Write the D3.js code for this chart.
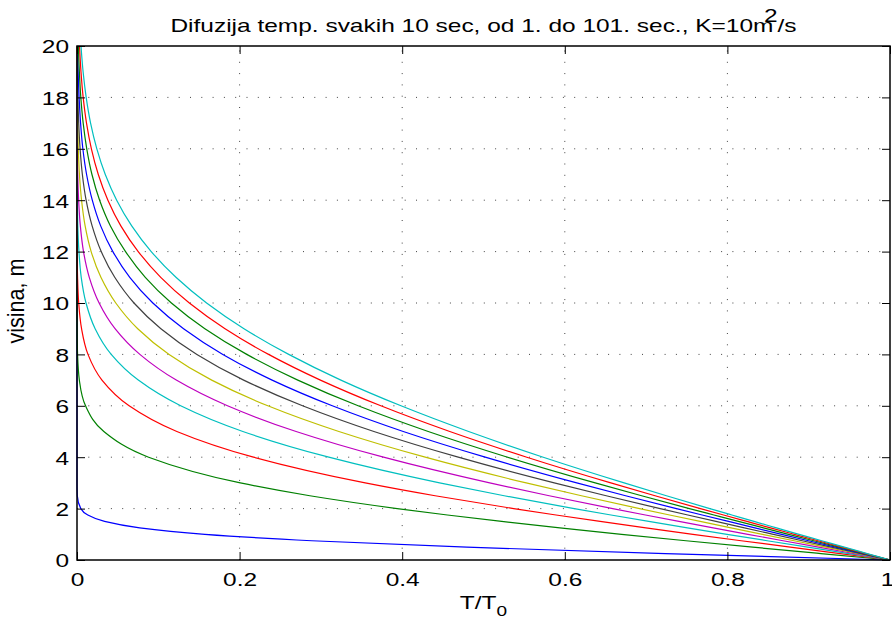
<!DOCTYPE html>
<html>
<head>
<meta charset="utf-8">
<script src="https://cdn.jsdelivr.net/npm/d3@7"></script>
<style>
    body { margin: 0; background: #fff; }
    text { font-family: "Liberation Sans", Arial, Helvetica, sans-serif; fill: #000; }
</style>
</head>
<body>
<div id="chart"></div>
<script>
// heights (visina, m) where every profile is read
const heights = [0, 0.25, 0.5, 0.75, 1, 1.25, 1.5, 1.75, 2, 2.5, 3, 4, 5, 6, 7, 8, 9, 10, 11, 12, 13, 14, 15, 16, 17, 18, 19, 20];

// T/T0 for each time step (1 s, 11 s, ... 101 s)
const t1   = [1, 0.7237, 0.4795, 0.2888, 0.1573, 0.0771, 0.0339, 0.0133, 0.0047, 0.0004, 0, 0, 0, 0, 0, 0, 0, 0, 0, 0, 0, 0, 0, 0, 0, 0, 0, 0];
const t11  = [1, 0.9151, 0.8311, 0.7491, 0.6698, 0.5940, 0.5224, 0.4556, 0.3938, 0.2864, 0.2009, 0.0881, 0.0330, 0.0105, 0.0029, 0.0007, 0.0001, 0, 0, 0, 0, 0, 0, 0, 0, 0, 0, 0];
const t21  = [1, 0.9385, 0.8774, 0.8169, 0.7576, 0.6997, 0.6435, 0.5892, 0.5371, 0.4405, 0.3545, 0.2170, 0.1228, 0.0641, 0.0307, 0.0135, 0.0056, 0.0021, 0.0007, 0.0002, 0.0001, 0, 0, 0, 0, 0, 0, 0];
const t31  = [1, 0.9493, 0.8989, 0.8489, 0.7995, 0.7508, 0.7033, 0.6568, 0.6116, 0.5254, 0.4460, 0.3097, 0.2040, 0.1275, 0.0754, 0.0421, 0.0223, 0.0111, 0.0052, 0.0024, 0.0010, 0.0004, 0.0001, 0.0001, 0, 0, 0, 0];
const t41  = [1, 0.9560, 0.9121, 0.8685, 0.8252, 0.7825, 0.7404, 0.6992, 0.6589, 0.5808, 0.5076, 0.3770, 0.2695, 0.1851, 0.1221, 0.0773, 0.0468, 0.0272, 0.0151, 0.0080, 0.0041, 0.0020, 0.0009, 0.0004, 0.0002, 0.0001, 0, 0];
const t51  = [1, 0.9605, 0.9211, 0.8820, 0.8431, 0.8045, 0.7665, 0.7289, 0.6920, 0.6205, 0.5525, 0.4283, 0.3221, 0.2347, 0.1657, 0.1133, 0.0747, 0.0477, 0.0294, 0.0174, 0.0100, 0.0056, 0.0030, 0.0016, 0.0008, 0.0004, 0.0002, 0.0001];
const t61  = [1, 0.9639, 0.9278, 0.8920, 0.8564, 0.8209, 0.7859, 0.7513, 0.7173, 0.6509, 0.5870, 0.4689, 0.3652, 0.2774, 0.2050, 0.1475, 0.1032, 0.0701, 0.0464, 0.0298, 0.0186, 0.0112, 0.0066, 0.0038, 0.0021, 0.0011, 0.0006, 0.0003];
const t71  = [1, 0.9665, 0.9331, 0.8998, 0.8667, 0.8338, 0.8013, 0.7690, 0.7373, 0.6748, 0.6147, 0.5021, 0.4013, 0.3140, 0.2400, 0.1794, 0.1311, 0.0933, 0.0649, 0.0441, 0.0291, 0.0188, 0.0118, 0.0072, 0.0044, 0.0026, 0.0014, 0.0008];
const t81  = [1, 0.9687, 0.9373, 0.9062, 0.8752, 0.8443, 0.8136, 0.7834, 0.7533, 0.6945, 0.6374, 0.5297, 0.4320, 0.3458, 0.2716, 0.2088, 0.1573, 0.1161, 0.0840, 0.0597, 0.0411, 0.0278, 0.0184, 0.0120, 0.0076, 0.0047, 0.0029, 0.0017];
const t91  = [1, 0.9704, 0.9409, 0.9115, 0.8822, 0.8530, 0.8241, 0.7953, 0.7668, 0.7110, 0.6566, 0.5533, 0.4585, 0.3737, 0.2994, 0.2356, 0.1821, 0.1382, 0.1030, 0.0753, 0.0539, 0.0380, 0.0262, 0.0177, 0.0117, 0.0076, 0.0049, 0.0031];
const t101 = [1, 0.9719, 0.9438, 0.9160, 0.8881, 0.8604, 0.8327, 0.8055, 0.7784, 0.7250, 0.6730, 0.5735, 0.4817, 0.3985, 0.3246, 0.2604, 0.2054, 0.1594, 0.1217, 0.0913, 0.0673, 0.0488, 0.0348, 0.0244, 0.0167, 0.0113, 0.0075, 0.0049];

const profiles = [t1, t11, t21, t31, t41, t51, t61, t71, t81, t91, t101];

// tick labels
const xTicks = [0, 0.2, 0.4, 0.6, 0.8, 1];
const yTicks = [0, 2, 4, 6, 8, 10, 12, 14, 16, 18, 20];

// matlab colour order (b g r c m y k)
const lineColors = ["#0000ff", "#008000", "#ff0000", "#00bfbf", "#bf00bf", "#bfbf00", "#404040",
                    "#0000ff", "#008000", "#ff0000", "#00bfbf"];

const W = 892, H = 617;
const margin = {top: 46, right: 2, bottom: 57, left: 77};
const width = W - margin.left - margin.right;
const height = H - margin.top - margin.bottom;
const fontSize = 18;
const stretch = 1.36;   // the picture's text is wide

const svg = d3.select("#chart").append("svg")
    .attr("width", W)
    .attr("height", H);

const g = svg.append("g")
    .attr("transform", "translate(" + margin.left + "," + margin.top + ")");

const x = d3.scaleLinear().domain([0, 1]).range([0, width]);
const y = d3.scaleLinear().domain([0, 20]).range([height, 0]);

// dotted grid
g.append("g").selectAll("line")
    .data(xTicks.slice(1, -1))
    .enter().append("line")
    .attr("x1", d => x(d)).attr("x2", d => x(d))
    .attr("y1", height).attr("y2", 0)
    .attr("stroke", "#444")
    .attr("stroke-dasharray", "1,10.3");

g.append("g").selectAll("line")
    .data(yTicks.slice(1, -1))
    .enter().append("line")
    .attr("y1", d => y(d)).attr("y2", d => y(d))
    .attr("x1", 0).attr("x2", width)
    .attr("stroke", "#444")
    .attr("stroke-dasharray", "1,10.3");

// profiles
const line = d3.line()
    .x(d => x(d[0]))
    .y(d => y(d[1]))
    .curve(d3.curveMonotoneY);

g.append("g").selectAll("path")
    .data(profiles)
    .enter().append("path")
    .attr("d", p => line(heights.map((h, i) => [p[i], h])))
    .attr("fill", "none")
    .attr("stroke", (p, i) => lineColors[i])
    .attr("stroke-width", 1.2);

// axes, ticks pointing inward
const tick = 8;
const xAxis = d3.axisBottom(x).tickValues(xTicks).tickFormat(d3.format("")).tickSizeInner(-tick).tickSizeOuter(0).tickPadding(13);
const yAxis = d3.axisLeft(y).tickValues(yTicks).tickFormat(d3.format("")).tickSizeInner(-tick).tickSizeOuter(0).tickPadding(8);

const gx = g.append("g").attr("transform", "translate(0," + height + ")").call(xAxis);
const gy = g.append("g").call(yAxis);
g.append("g").call(d3.axisTop(x).tickValues(xTicks).tickFormat("").tickSizeInner(-tick).tickSizeOuter(0));
g.append("g").attr("transform", "translate(" + width + ",0)")
    .call(d3.axisRight(y).tickValues(yTicks).tickFormat("").tickSizeInner(-tick).tickSizeOuter(0));

g.selectAll(".domain").remove();
g.selectAll(".tick line").attr("stroke", "#000");

gx.selectAll("text")
    .attr("font-size", fontSize)
    .attr("font-family", null)
    .attr("transform", "scale(" + stretch + ",1)");

// last label sits on the window edge, keep it inside
gx.selectAll("text").filter(d => d === 1).attr("x", -3 / stretch);

gy.selectAll("text")
    .attr("font-size", fontSize)
    .attr("font-family", null)
    .attr("x", -8 / stretch)
    .attr("dy", "0.38em")
    .attr("transform", "scale(" + stretch + ",1)");

// box
g.append("rect")
    .attr("width", width)
    .attr("height", height)
    .attr("fill", "none")
    .attr("stroke", "#000")
    .attr("stroke-width", 1.5);

// title
const title = svg.append("text")
    .attr("transform", "translate(" + (margin.left + width / 2) + ",32) scale(" + stretch + ",1)")
    .attr("text-anchor", "middle")
    .attr("font-size", fontSize);
title.append("tspan").text("Difuzija temp. svakih 10 sec, od 1. do 101. sec., K=10m");
title.append("tspan").attr("dx", -7).attr("dy", -10).text("2");
title.append("tspan").attr("dy", 10).text("/s");

// x label
const xLabel = svg.append("text")
    .attr("transform", "translate(" + (margin.left + width / 2) + ",609) scale(" + stretch + ",1)")
    .attr("text-anchor", "middle")
    .attr("font-size", fontSize);
xLabel.append("tspan").text("T/T");
xLabel.append("tspan").attr("dy", 7).attr("font-size", 14).text("0");

// y label
svg.append("text")
    .attr("transform", "translate(24,301) rotate(-90) scale(1.2," + stretch + ")")
    .attr("text-anchor", "middle")
    .attr("font-size", fontSize)
    .text("visina, m");
</script>
</body>
</html>
